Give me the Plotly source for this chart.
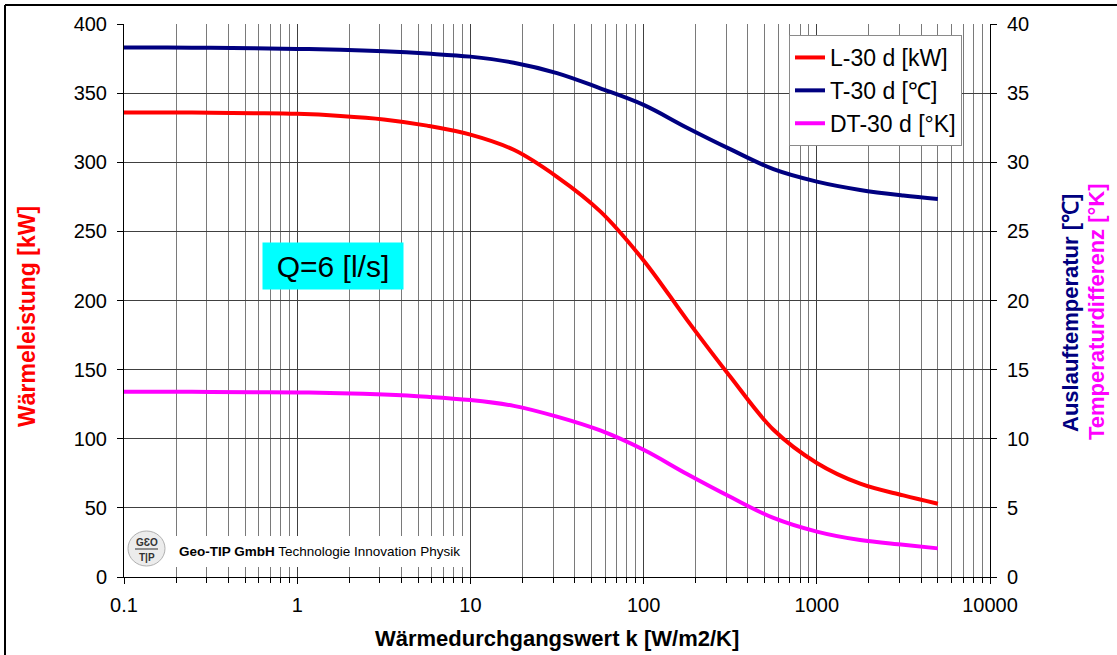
import plotly.graph_objects as go

# Heat transfer coefficient k [W/m2/K], read at quarter-decade steps
k_values = [0.1, 0.178, 0.316, 0.562, 1, 1.78, 3.16, 5.62, 10, 17.8, 31.6, 56.2, 100, 178, 316, 562,
            1000, 1780, 3160, 5000]

# L-30 d: heat output [kW]
heat_kw = [336, 336, 335.8, 335.5, 335, 333.5, 331, 326.5, 320, 309, 289.5, 264.5, 229, 186, 145, 106.5,
           82.5, 67.5, 59, 53]

# T-30 d: outlet temperature [°C]
outlet_temp = [38.3, 38.3, 38.28, 38.25, 38.2, 38.13, 38.02, 37.86, 37.64, 37.2, 36.45, 35.35, 34.15, 32.5,
               30.95, 29.5, 28.6, 28.0, 27.6, 27.35]

# DT-30 d: temperature difference [K]
temp_diff = [13.4, 13.4, 13.39, 13.37, 13.35, 13.3, 13.2, 13.04, 12.8, 12.38, 11.6, 10.6, 9.2, 7.45, 5.8,
             4.27, 3.28, 2.67, 2.33, 2.07]

x_tick_vals = [0.1, 1, 10, 100, 1000, 10000]
x_tick_text = ["0.1", "1", "10", "100", "1000", "10000"]

FONT = "Arial, Liberation Sans, sans-serif"
W, H = 1117, 655
L_M, R_M, T_M, B_M = 124, 127, 24, 78
PW, PH = W - L_M - R_M, H - T_M - B_M


def px(xp):
    return (xp - L_M) / PW


def py(yp):
    return (H - B_M - yp) / PH


line_style = dict(width=4, shape="spline", smoothing=1.0)

fig = go.Figure()
fig.add_trace(go.Scatter(x=k_values, y=heat_kw, name="L-30 d [kW]", mode="lines",
                         line=dict(color="#FF0000", **line_style)))
fig.add_trace(go.Scatter(x=k_values, y=outlet_temp, name="T-30 d [℃]", mode="lines", yaxis="y2",
                         line=dict(color="#000080", **line_style)))
fig.add_trace(go.Scatter(x=k_values, y=temp_diff, name="DT-30 d [°K]", mode="lines", yaxis="y2",
                         line=dict(color="#FF00FF", **line_style)))

shapes = [
    # white panel behind the company logo
    dict(type="rect", xref="paper", yref="paper", x0=px(125), x1=px(468), y0=py(567), y1=py(536),
         fillcolor="white", line=dict(width=0), layer="above"),
    # round logo badge
    dict(type="circle", xref="paper", yref="paper", x0=px(128), x1=px(165), y0=py(566), y1=py(531),
         fillcolor="#ececec", line=dict(color="#b0b0b0", width=1), layer="above"),
    dict(type="line", xref="paper", yref="paper", x0=px(135), x1=px(158), y0=py(549), y1=py(549),
         line=dict(color="#333333", width=1), layer="above"),
    # outer frame
    dict(type="line", xref="paper", yref="paper", x0=px(5), x1=px(W), y0=py(5), y1=py(5),
         line=dict(color="black", width=2)),
    dict(type="line", xref="paper", yref="paper", x0=px(5), x1=px(5), y0=py(5), y1=py(H),
         line=dict(color="black", width=2)),
]

annotations = [
    dict(text="Q=6 [l/s]", xref="paper", yref="paper", x=px(333), y=py(266), showarrow=False,
         font=dict(family=FONT, size=30, color="black"), bgcolor="#00FFFF", width=132, height=38,
         borderpad=4, xanchor="center", yanchor="middle"),
    dict(text="<b>Wärmeleistung [kW]</b>", xref="paper", yref="paper", x=px(27), y=py(317),
         textangle=-90, showarrow=False, font=dict(family=FONT, size=23, color="#FF0000"),
         xanchor="center", yanchor="middle"),
    dict(text="<b>Auslauftemperatur [℃]</b>", xref="paper", yref="paper", x=px(1070), y=py(313),
         textangle=-90, showarrow=False, font=dict(family=FONT, size=22, color="#000080"),
         xanchor="center", yanchor="middle"),
    dict(text="<b>Temperaturdifferenz [°K]</b>", xref="paper", yref="paper", x=px(1097), y=py(312),
         textangle=-90, showarrow=False, font=dict(family=FONT, size=22, color="#FF00FF"),
         xanchor="center", yanchor="middle"),
    dict(text="<b>Wärmedurchgangswert k [W/m2/K]</b>", xref="paper", yref="paper", x=px(557), y=py(638),
         showarrow=False, font=dict(family=FONT, size=22, color="black"),
         xanchor="center", yanchor="middle"),
    dict(text="<b>Geo-TIP GmbH</b> Technologie Innovation Physik", xref="paper", yref="paper",
         x=px(177), y=py(551), showarrow=False, font=dict(family=FONT, size=13.5, color="black"),
         xanchor="left", yanchor="middle"),
    dict(text="<b>GƐO</b>", xref="paper", yref="paper", x=px(146.5), y=py(542), showarrow=False,
         font=dict(family=FONT, size=10, color="#333333"), xanchor="center", yanchor="middle"),
    dict(text="<b>T|P</b>", xref="paper", yref="paper", x=px(146.5), y=py(557), showarrow=False,
         font=dict(family=FONT, size=10, color="#333333"), xanchor="center", yanchor="middle"),
]

fig.update_layout(
    width=W, height=H,
    margin=dict(l=L_M, r=R_M, t=T_M, b=B_M, pad=0),
    paper_bgcolor="white", plot_bgcolor="white",
    font=dict(family=FONT, size=20, color="black"),
    showlegend=True,
    legend=dict(x=px(789), y=py(35), xanchor="left", yanchor="top",
                bgcolor="white", bordercolor="#8a8a8a", borderwidth=1,
                font=dict(family=FONT, size=23, color="black"),
                tracegroupgap=0, itemwidth=30),
    xaxis=dict(type="log", range=[-1, 4], tickmode="array", tickvals=x_tick_vals, ticktext=x_tick_text,
               showgrid=True, gridcolor="#404040", gridwidth=1,
               ticks="outside", ticklen=6, tickcolor="black",
               showline=True, linecolor="black", linewidth=1,
               minor=dict(tickmode="array",
                          tickvals=[m * 10 ** e for e in range(-1, 4) for m in range(2, 10)],
                          showgrid=True, gridcolor="#7a7a7a", gridwidth=1,
                          ticks="outside", ticklen=5, tickcolor="black"),
               tickfont=dict(family=FONT, size=20), ticklabelstandoff=4, zeroline=False),
    yaxis=dict(range=[0, 400], dtick=50, showgrid=True, gridcolor="#404040", gridwidth=1,
               ticks="outside", ticklen=6, tickcolor="black",
               showline=True, linecolor="black", linewidth=1, zeroline=False,
               tickfont=dict(family=FONT, size=20), ticklabelstandoff=6),
    yaxis2=dict(range=[0, 40], dtick=5, overlaying="y", side="right", showgrid=False,
                ticks="outside", ticklen=6, tickcolor="black",
                showline=True, linecolor="black", linewidth=1, zeroline=False,
                tickfont=dict(family=FONT, size=20), ticklabelstandoff=6),
    shapes=shapes,
    annotations=annotations,
)

fig.write_html("out.html")
